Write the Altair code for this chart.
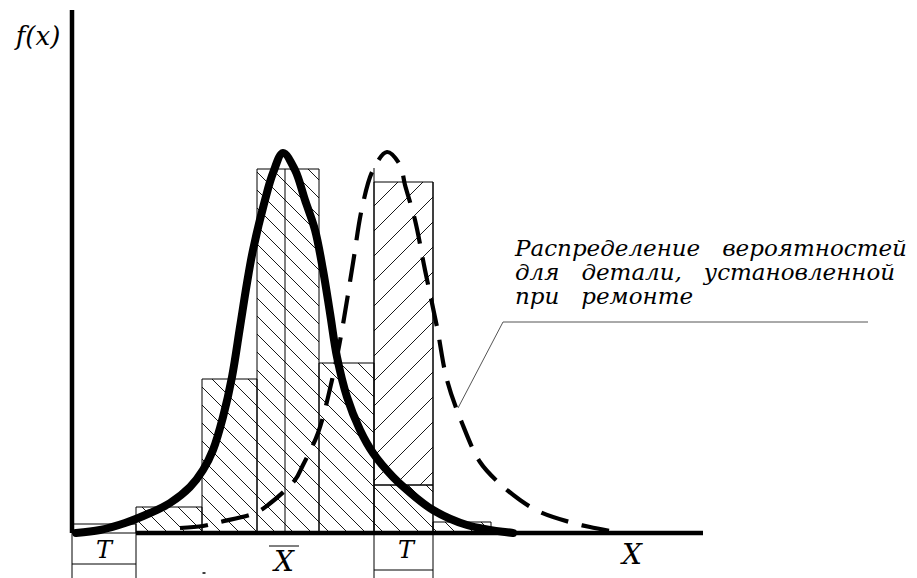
import altair as alt
import pandas as pd

# ---- histogram of the part distribution (bin edges and heights) ----
bin_left = [0.0, 6.4, 13.0, 18.5, 24.7, 30.2, 36.1]
bin_right = [6.4, 13.0, 18.5, 24.7, 30.2, 36.1, 41.9]
bin_height = [0.09, 0.26, 1.54, 3.64, 1.70, 0.48, 0.11]

# ---- bar of the repair distribution, stacked on the sixth bin ----
repair_left = [30.2]
repair_right = [36.1]
repair_bottom = [0.48]
repair_top = [3.51]

# mean of the part distribution
mean_x = 21.3

# ---- density of the part distribution (solid curve) ----
solid_x = [0.4, 2.8, 5.3, 7.8, 9.8, 11.8, 13.1, 14.1, 15.1, 16.0, 16.8, 17.5, 18.1,
           19.3, 20.1, 21.1, 22.3, 23.3, 24.3, 25.1, 25.8, 26.5, 27.5, 28.8, 30.1,
           32.1, 33.5, 36.1, 39.5, 44.1]
solid_y = [0.00, 0.03, 0.10, 0.20, 0.30, 0.46, 0.63, 0.83, 1.16, 1.56, 2.06, 2.50, 2.83,
           3.33, 3.60, 3.80, 3.63, 3.33, 3.03, 2.63, 2.20, 1.76, 1.36, 1.03, 0.80,
           0.56, 0.43, 0.23, 0.08, 0.00]

# ---- density of the part installed during repair (dashed curve) ----
dash_x = [10.8, 13.1, 14.8, 18.3, 19.6, 22.3, 23.1, 24.6, 26.0, 27.0, 28.1, 29.0, 30.1,
          31.5, 32.8, 33.3, 34.3, 35.3, 36.5, 37.5, 39.0, 40.8, 42.6, 44.8, 46.8, 50.1,
          51.8, 54.3]
dash_y = [0.05, 0.07, 0.11, 0.20, 0.28, 0.53, 0.68, 1.00, 1.53, 2.03, 2.70, 3.25, 3.63,
          3.81, 3.68, 3.48, 3.13, 2.63, 2.06, 1.53, 1.10, 0.71, 0.51, 0.33, 0.21, 0.10,
          0.06, 0.01]

# note text; words are separated by wide (non-breaking) gaps
GAP = "\u00a0\u00a0\u00a0"
note_lines = [GAP.join(["Распределение", "вероятностей"]),
              GAP.join(["для", "детали,", "установленной"]),
              GAP.join(["при", "ремонте"])]

# ---- scales: 1 x-unit = 10 px, 1 y-unit = 100 px ----
W, H = 917, 578
XD = [-7.2, 84.5]
YD = [-0.45, 5.33]
xs = alt.Scale(domain=XD, nice=False, zero=False)
ys = alt.Scale(domain=YD, nice=False, zero=False)
PX_X = W / (XD[1] - XD[0])
PX_Y = H / (YD[1] - YD[0])


def ex(field="x"):
    return alt.X(field, type="quantitative", scale=xs, axis=None)


def ey(field="y"):
    return alt.Y(field, type="quantitative", scale=ys, axis=None)


def hatch(x0, x1, y0, y1, kind, step):
    """Clip 45-degree hatch lines to a rectangle (screen-space spacing `step`)."""
    X0, X1 = x0 * PX_X, x1 * PX_X
    Y0, Y1 = -y1 * PX_Y, -y0 * PX_Y  # screen y grows downward
    segs = []
    c = -3000.0
    while c < 3000.0:
        if kind == "\\":  # X - Y = c
            xs_, xe_ = max(X0, Y0 + c), min(X1, Y1 + c)
            if xe_ - xs_ > 0.5:
                segs.append((xs_, xs_ - c, xe_, xe_ - c))
        else:  # X + Y = c
            xs_, xe_ = max(X0, c - Y1), min(X1, c - Y0)
            if xe_ - xs_ > 0.5:
                segs.append((xs_, c - xs_, xe_, c - xe_))
        c += step
    return [dict(x=a / PX_X, y=-b / PX_Y, x2=cx / PX_X, y2=-d / PX_Y) for a, b, cx, d in segs]


hatch_rows = []
for l, r, h in zip(bin_left[1:], bin_right[1:], bin_height[1:]):
    hatch_rows += hatch(l, r, 0.0, h, "\\", 18.0)
for l, r, b, t in zip(repair_left, repair_right, repair_bottom, repair_top):
    hatch_rows += hatch(l, r, b, t, "/", 25.0)
hatch_df = pd.DataFrame(hatch_rows)

bars_df = pd.DataFrame({"x": bin_left, "x2": bin_right, "y": [0.0] * len(bin_left), "y2": bin_height})
repair_df = pd.DataFrame({"x": repair_left, "x2": repair_right, "y": repair_bottom, "y2": repair_top})
solid_df = pd.DataFrame({"x": solid_x, "y": solid_y})
dash_df = pd.DataFrame({"x": dash_x, "y": dash_y})

base_rect = dict(filled=False, stroke="black", strokeWidth=1)
bars = alt.Chart(bars_df).mark_rect(**base_rect).encode(ex(), ey(), x2="x2", y2="y2")
repair = alt.Chart(repair_df).mark_rect(**base_rect).encode(ex(), ey(), x2="x2", y2="y2")
hatches = alt.Chart(hatch_df).mark_rule(stroke="black", strokeWidth=0.9).encode(
    ex(), ey(), x2="x2", y2="y2")

# thin construction lines: mean, bar edges extended into dimension lines
thin_df = pd.DataFrame([
    dict(x=mean_x, y=0.0, x2=mean_x, y2=bin_height[3]),
    dict(x=0.0, y=0.0, x2=0.0, y2=YD[0]),
    dict(x=6.4, y=0.0, x2=6.4, y2=YD[0]),
    dict(x=0.0, y=-0.31, x2=6.4, y2=-0.31),
    dict(x=30.2, y=3.65, x2=30.2, y2=YD[0]),
    dict(x=36.1, y=3.51, x2=36.1, y2=YD[0]),
    dict(x=30.2, y=-0.37, x2=36.1, y2=-0.37),
    dict(x=19.7, y=-0.13, x2=22.7, y2=-0.13),
])
thin = alt.Chart(thin_df).mark_rule(stroke="black", strokeWidth=1).encode(
    ex(), ey(), x2="x2", y2="y2")

tick_df = pd.DataFrame([dict(x=13.05, y=-0.40, x2=13.35, y2=-0.40)])
tick = alt.Chart(tick_df).mark_rule(stroke="black", strokeWidth=1.5).encode(
    ex(), ey(), x2="x2", y2="y2")

# coordinate axes
axes_df = pd.DataFrame([
    dict(x=0.0, y=0.0, x2=0.0, y2=5.23),
    dict(x=6.4, y=0.0, x2=63.1, y2=0.0),
])
axes = alt.Chart(axes_df).mark_rule(stroke="black", strokeWidth=4.5).encode(
    ex(), ey(), x2="x2", y2="y2")

# leader line for the note
leader_df = pd.DataFrame([
    dict(x=43.1, y=2.11, x2=79.6, y2=2.11),
    dict(x=43.1, y=2.11, x2=38.6, y2=1.25),
])
leader = alt.Chart(leader_df).mark_rule(stroke="#555555", strokeWidth=1).encode(
    ex(), ey(), x2="x2", y2="y2")

solid = alt.Chart(solid_df).mark_line(
    stroke="black", strokeWidth=8, interpolate="catmull-rom", strokeCap="round"
).encode(ex(), ey())
dashed = alt.Chart(dash_df).mark_line(
    stroke="black", strokeWidth=4.2, interpolate="catmull-rom", strokeDash=[28, 14], strokeCap="butt"
).encode(ex(), ey())

FONT = "DejaVu Serif"
labels_df = pd.DataFrame([
    dict(x=-3.4, y=4.96, t="f(x)", s=26),
    dict(x=3.2, y=-0.18, t="T", s=24),
    dict(x=33.4, y=-0.18, t="T", s=24),
    dict(x=21.2, y=-0.30, t="X", s=28),
    dict(x=56.0, y=-0.23, t="X", s=28),
])
labels = alt.Chart(labels_df).mark_text(
    font=FONT, fontStyle="italic", align="center", baseline="middle", color="black"
).encode(ex(), ey(), text="t:N", size=alt.Size("s:Q", scale=None, legend=None))

note_df = pd.DataFrame({"x": [44.3] * 3, "y": [2.77, 2.53, 2.29], "t": note_lines})
note = alt.Chart(note_df).mark_text(
    font=FONT, fontStyle="italic", align="left", baseline="alphabetic", fontSize=23, color="black"
).encode(ex(), ey(), text="t:N")

chart = alt.layer(
    hatches, bars, repair, thin, tick, leader, axes, dashed, solid, labels, note
).properties(width=W, height=H, padding=0, autosize="none").configure_view(stroke=None)

chart.save("out.html", embed_options={"renderer": "svg", "actions": False})
